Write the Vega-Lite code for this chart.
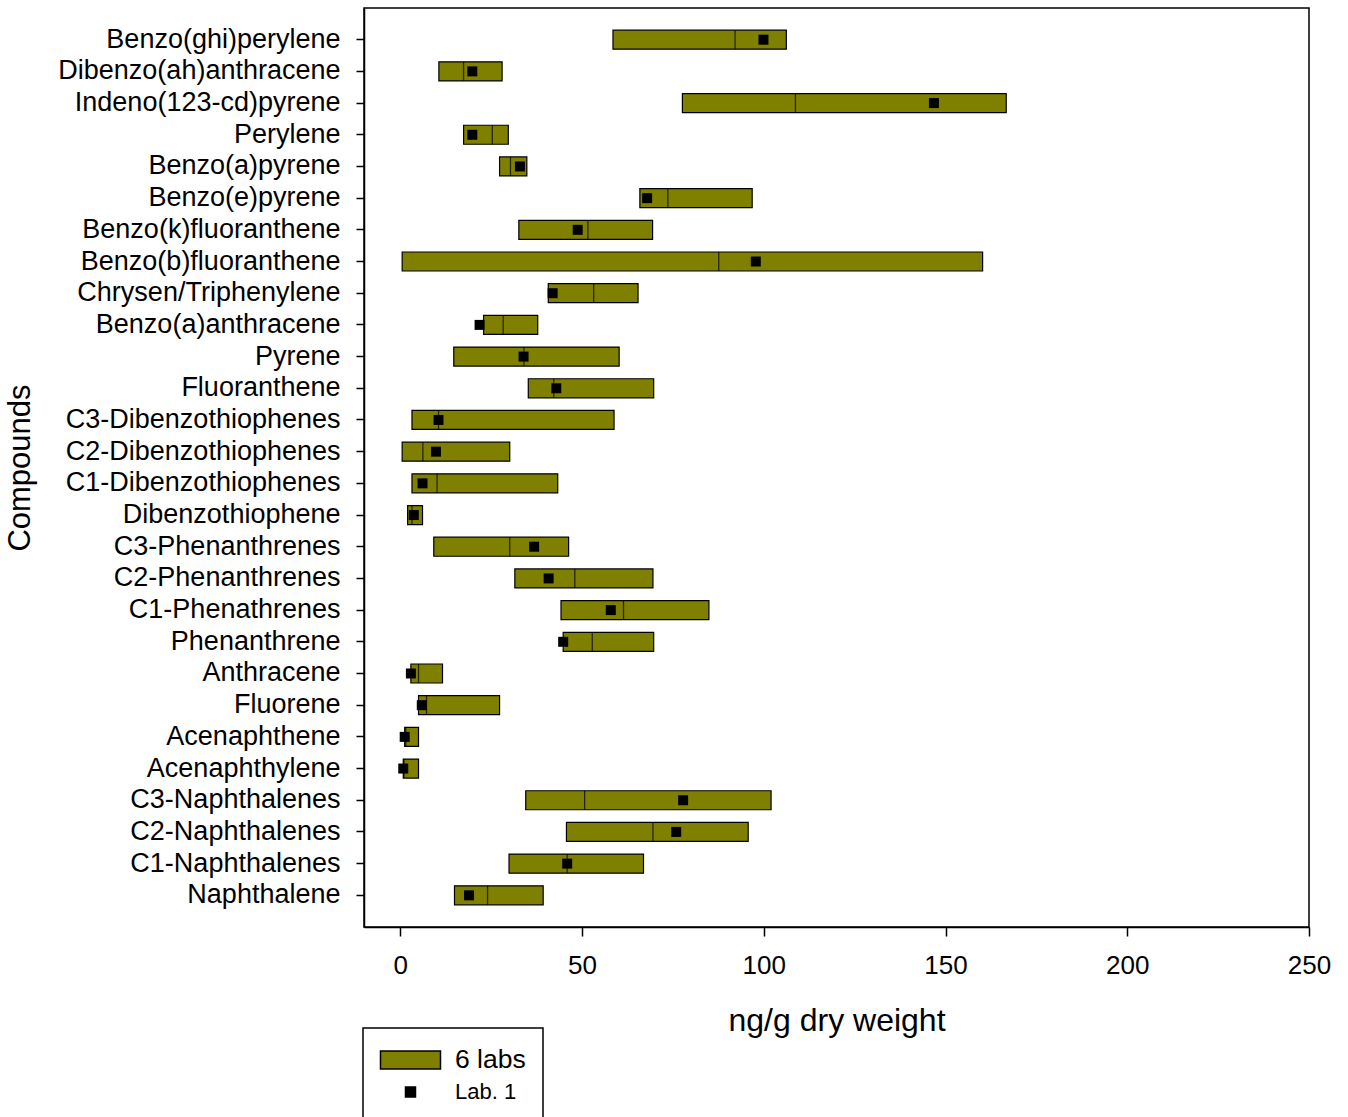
{
  "$schema": "https://vega.github.io/schema/vega-lite/v6.json",
  "width": 945,
  "height": 919,
  "autosize": {"type": "none"},
  "padding": {"left": 364, "top": 8, "right": 39, "bottom": 190},
  "background": "white",
  "config": {
    "font": "Liberation Sans",
    "view": {"stroke": "black", "strokeWidth": 1.5},
    "axis": {
      "grid": false,
      "domainColor": "black",
      "domainWidth": 1.5,
      "tickColor": "black",
      "tickWidth": 1.5,
      "labelColor": "black",
      "titleColor": "black",
      "titleFontWeight": "normal",
      "labelFont": "Liberation Sans",
      "titleFont": "Liberation Sans"
    }
  },
  "data": {
    "values": [
      {"compound": "Benzo(ghi)perylene", "min": 58.5, "max": 106.2, "median": 92.1, "lab1": 99.9},
      {"compound": "Dibenzo(ah)anthracene", "min": 10.6, "max": 28.0, "median": 17.4, "lab1": 19.8},
      {"compound": "Indeno(123-cd)pyrene", "min": 77.6, "max": 166.7, "median": 108.7, "lab1": 146.8},
      {"compound": "Perylene", "min": 17.4, "max": 29.7, "median": 25.3, "lab1": 19.8},
      {"compound": "Benzo(a)pyrene", "min": 27.3, "max": 34.8, "median": 30.3, "lab1": 32.9},
      {"compound": "Benzo(e)pyrene", "min": 65.9, "max": 96.8, "median": 73.6, "lab1": 67.9},
      {"compound": "Benzo(k)fluoranthene", "min": 32.6, "max": 69.4, "median": 51.6, "lab1": 48.8},
      {"compound": "Benzo(b)fluoranthene", "min": 0.5, "max": 160.2, "median": 87.6, "lab1": 97.8},
      {"compound": "Chrysen/Triphenylene", "min": 40.7, "max": 65.4, "median": 53.2, "lab1": 41.9},
      {"compound": "Benzo(a)anthracene", "min": 22.9, "max": 37.8, "median": 28.3, "lab1": 21.8},
      {"compound": "Pyrene", "min": 14.7, "max": 60.2, "median": 34.0, "lab1": 33.9},
      {"compound": "Fluoranthene", "min": 35.2, "max": 69.7, "median": 42.2, "lab1": 42.9},
      {"compound": "C3-Dibenzothiophenes", "min": 3.2, "max": 58.8, "median": 10.5, "lab1": 10.5},
      {"compound": "C2-Dibenzothiophenes", "min": 0.5, "max": 30.1, "median": 6.2, "lab1": 9.8},
      {"compound": "C1-Dibenzothiophenes", "min": 3.2, "max": 43.3, "median": 10.1, "lab1": 6.1},
      {"compound": "Dibenzothiophene", "min": 2.0, "max": 6.1, "median": 3.2, "lab1": 3.7},
      {"compound": "C3-Phenanthrenes", "min": 9.2, "max": 46.3, "median": 30.1, "lab1": 36.8},
      {"compound": "C2-Phenanthrenes", "min": 31.5, "max": 69.5, "median": 48.0, "lab1": 40.8},
      {"compound": "C1-Phenathrenes", "min": 44.2, "max": 84.9, "median": 61.4, "lab1": 57.9},
      {"compound": "Phenanthrene", "min": 44.8, "max": 69.7, "median": 52.8, "lab1": 44.8},
      {"compound": "Anthracene", "min": 2.9, "max": 11.6, "median": 5.0, "lab1": 2.9},
      {"compound": "Fluorene", "min": 5.0, "max": 27.3, "median": 7.2, "lab1": 5.9},
      {"compound": "Acenaphthene", "min": 1.2, "max": 5.0, "median": 1.5, "lab1": 1.2},
      {"compound": "Acenaphthylene", "min": 0.8, "max": 5.0, "median": 1.0, "lab1": 0.8},
      {"compound": "C3-Naphthalenes", "min": 34.5, "max": 102.0, "median": 50.7, "lab1": 77.8},
      {"compound": "C2-Naphthalenes", "min": 45.7, "max": 95.7, "median": 69.5, "lab1": 75.9},
      {"compound": "C1-Naphthalenes", "min": 29.9, "max": 66.9, "median": 45.9, "lab1": 45.9},
      {"compound": "Naphthalene", "min": 14.9, "max": 39.3, "median": 24.0, "lab1": 18.9}
    ]
  },
  "encoding": {
    "y": {
      "field": "compound",
      "type": "nominal",
      "sort": null,
      "scale": {"paddingInner": 0, "paddingOuter": 0.5},
      "axis": {
        "title": "Compounds",
        "titleFontSize": 31,
        "titleX": -335,
        "titleY": 459.5,
        "titleAngle": -90,
        "titleAlign": "center",
        "titleBaseline": "alphabetic",
        "labelFontSize": 27,
        "tickSize": 8,
        "labelPadding": 16,
        "labelLimit": 400
      }
    }
  },
  "layer": [
    {
      "mark": {"type": "bar", "height": {"band": 0.6}, "stroke": "black", "strokeWidth": 1.2},
      "encoding": {
        "x": {
          "field": "min",
          "type": "quantitative",
          "scale": {"domain": [-10, 250], "nice": false, "zero": false},
          "axis": {
            "title": "ng/g dry weight",
            "titleFontSize": 32,
            "titlePadding": 27,
            "labelFontSize": 26,
            "values": [0, 50, 100, 150, 200, 250],
            "tickSize": 9,
            "labelPadding": 16,
            "labelFlush": false
          }
        },
        "x2": {"field": "max"},
        "color": {
          "datum": "6 labs",
          "type": "nominal",
          "scale": {"domain": ["6 labs", "Lab. 1"], "range": ["#808000", "#000000"]},
          "legend": {
            "orient": "none",
            "legendX": -1,
            "legendY": 1020,
            "title": null,
            "strokeColor": "black",
            "fillColor": "white",
            "padding": 17,
            "symbolSize": 784,
            "symbolStrokeColor": "black",
            "labelOffset": 45,
            "labelFontSize": 26.5,
            "labelColor": "black",
            "rowPadding": 3,
            "encode": {
              "legend": {"update": {"strokeWidth": {"value": 1.5}}},
              "symbols": {
                "update": {
                  "shape": [
                    {"test": "datum.value === '6 labs'", "value": "M-1.036,-0.643H3.25V0.643H-1.036Z"},
                    {"value": "M0.75,-0.357H1.464V0.357H0.75Z"}
                  ]
                }
              },
              "labels": {
                "update": {
                  "fontSize": [
                    {"test": "datum.value === '6 labs'", "value": 26.5},
                    {"value": 22}
                  ]
                }
              }
            }
          }
        }
      }
    },
    {
      "mark": {"type": "tick", "size": 19, "thickness": 1.3, "color": "black"},
      "encoding": {"x": {"field": "median", "type": "quantitative"}}
    },
    {
      "mark": {"type": "square", "size": 100, "opacity": 1, "filled": true},
      "encoding": {
        "x": {"field": "lab1", "type": "quantitative"},
        "color": {"datum": "Lab. 1", "type": "nominal"}
      }
    }
  ]
}
